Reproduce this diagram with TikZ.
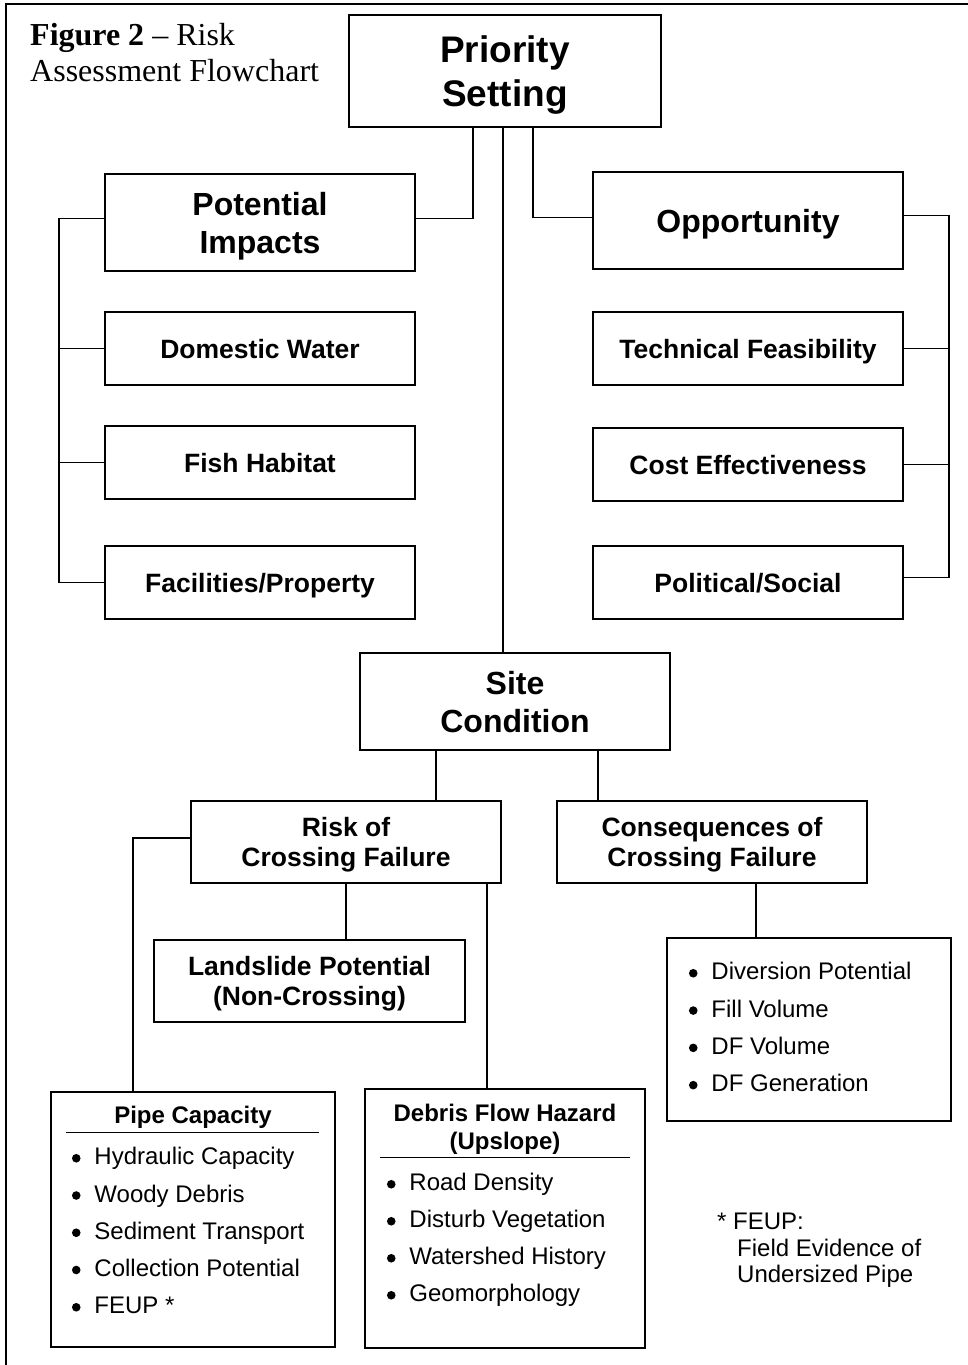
\documentclass[tikz,border=0pt]{standalone}
\usepackage{fontspec}
\setmainfont{Liberation Sans}
\newfontfamily\capfont{Liberation Serif}
\usetikzlibrary{calc}
\tikzset{
  box/.style   = {draw, line width=1.5pt, minimum width=310pt, minimum height=73pt,
                  inner sep=0pt, align=center, text depth=0pt,
                  font=\bfseries\fontsize{26.5}{30}\selectfont},
  hbox/.style  = {box, minimum height=97pt, font=\bfseries\fontsize{32}{38}\selectfont},
  mbox/.style  = {box, minimum height=82pt},
  lbox/.style  = {draw, line width=1.5pt, inner sep=0pt},
  link/.style  = {line width=1.5pt},
  hrule/.style = {line width=1.1pt},
  head/.style  = {font=\bfseries\fontsize{24}{28}\selectfont, inner sep=0pt, anchor=base},
  item/.style  = {font=\fontsize{24}{28}\selectfont, inner sep=0pt, anchor=base west},
  figcap/.style = {font=\capfont\fontsize{32}{36}\selectfont, inner sep=0pt, anchor=base west},
}

\begin{document}
\begin{tikzpicture}[x=1pt,y=-1pt]
    \useasboundingbox (0,0) rectangle (968,1365);
    % page frame (cut off at the right and bottom)
    \draw[line width=2pt] (6,1365) -- (6,4) -- (968,4);

    \node[figcap] (title) at (30,45.5) {\textbf{Figure 2} – Risk};
    \node[figcap] (title2) at (30,81.5) {Assessment Flowchart};

    \node[box, minimum width=312pt, minimum height=112pt,
          font=\bfseries\fontsize{37}{44}\selectfont] (prio) at (505,71) {Priority\\Setting};

    % left column
    \node[hbox] (pot)  at (260,222.5) {Potential\\Impacts};
    \node[box]  (dom)  at (260,348.5) {Domestic Water};
    \node[box]  (fish) at (260,462.5) {Fish Habitat};
    \node[box]  (fac)  at (260,582.5) {Facilities/Property};
    % right column
    \node[hbox] (opp)  at (748,220.5) {Opportunity};
    \node[box]  (tech) at (748,348.5) {Technical Feasibility};
    \node[box]  (cost) at (748,464.5) {Cost Effectiveness};
    \node[box]  (pol)  at (748,582.5) {Political/Social};

    \node[hbox] (site) at (515,701.5) {Site\\Condition};
    \node[mbox] (risk) at (346,842) {Risk of\\Crossing Failure};
    \node[mbox] (cons) at (712,842) {Consequences of\\Crossing Failure};
    \node[mbox, minimum width=311pt] (land) at (309.5,981) {Landslide Potential\\(Non-Crossing)};

    \node[lbox, minimum width=284pt, minimum height=255pt] (pipe)   at (193,1219.5) {};
    \node[lbox, minimum width=280pt, minimum height=259pt] (debris) at (505,1218.5) {};
    \node[lbox, minimum width=284pt, minimum height=183pt] (clist)  at (809,1029.5) {};

    % connectors
    \coordinate (lb) at (59,0);
    \coordinate (rb) at (949,0);
    \draw[link] ([xshift=-32pt]prio.south) |- ([yshift=4pt]pot.east);
    \draw[link] ([xshift=28pt]prio.south) |- ([yshift=3pt]opp.west);
    \draw[link] ([xshift=-2pt]prio.south) -- ([xshift=-2pt]prio.south |- site.north);
    \draw[link] ([yshift=4pt]pot.west) -| (lb |- fac.west) -- (fac.west);
    \draw[link] ([yshift=5pt]opp.east) -| ([yshift=5pt]rb |- pol.east) -- ([yshift=5pt]pol.east);
    \foreach \n in {dom,fish}
      \draw[link] (\n.west) -- (\n.west -| lb);
    \foreach \n in {tech,cost}
      \draw[link] (\n.east) -- (\n.east -| rb);
    \draw[link] ([xshift=-79pt]site.south) -- ([xshift=-79pt]site.south |- risk.north);
    \draw[link] ([xshift=83pt]site.south) -- ([xshift=83pt]site.south |- cons.north);
    \draw[link] ([yshift=4pt]risk.west) -| ([xshift=-60pt]pipe.north);
    \draw[link] (risk.south) -- (risk.south |- land.north);
    \draw[link] ([xshift=-18pt]debris.north) -- ([xshift=-18pt]debris.north |- risk.south);
    \draw[link] ([xshift=44pt]cons.south) -- ([xshift=44pt]cons.south |- clist.north);

    % pipe capacity list
    \node[head] (pipehead) at ($(pipe.north)+(0,32.6)$) {Pipe Capacity};
    \draw[hrule] ($(pipe.north west)+(16,41)$) -- ($(pipe.north east)+(-17,41)$);
    \foreach \t [count=\i from 0] in {Hydraulic Capacity, Woody Debris,
                                      Sediment Transport, Collection Potential, FEUP *}{
      \fill ($(pipe.north west)+(26,67+37.25*\i)$) circle (4.3pt);
      \node[item] (pipe-\i) at ($(pipe.north west)+(44,73.5+37.25*\i)$) {\t};
    }

    % debris flow list
    \node[head] (debhead) at ($(debris.north)+(0,33.6)$) {Debris Flow Hazard};
    \node[head] (debhead2) at ($(debris.north)+(0,61.6)$) {(Upslope)};
    \draw[hrule] ($(debris.north west)+(16,69)$) -- ($(debris.north east)+(-16,69)$);
    \foreach \t [count=\i from 0] in {Road Density, Disturb Vegetation,
                                      Watershed History, Geomorphology}{
      \fill ($(debris.north west)+(27,96+37*\i)$) circle (4.3pt);
      \node[item] (deb-\i) at ($(debris.north west)+(45,102.6+37*\i)$) {\t};
    }

    % consequences list
    \foreach \t [count=\i from 0] in {Diversion Potential, Fill Volume,
                                      DF Volume, DF Generation}{
      \fill ($(clist.north west)+(27,36+37.3*\i)$) circle (4.3pt);
      \node[item] (cl-\i) at ($(clist.north west)+(45,42.6+37.3*\i)$) {\t};
    }

    % footnote
    \node[item] (note)  at (717,1229) {* FEUP:};
    \node[item] (note2) at (737,1256) {Field Evidence of};
    \node[item] (note3) at (737,1282) {Undersized Pipe};
  \end{tikzpicture}
\end{document}
